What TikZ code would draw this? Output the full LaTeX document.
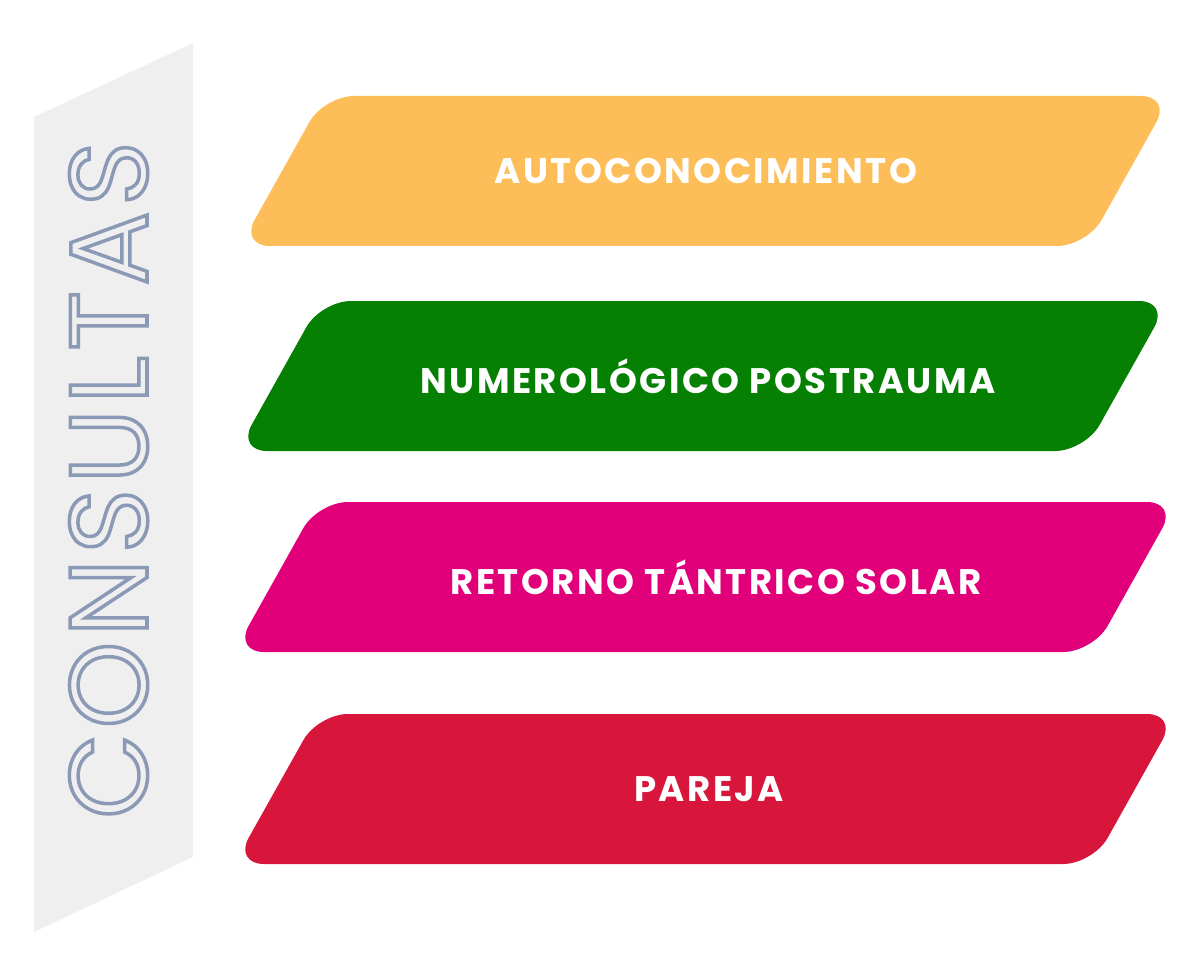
\documentclass[tikz,border=0pt]{standalone}
\usepackage{fontspec}
\setmainfont{Poppins}
\newfontfamily\labelfont{Poppins}[LetterSpace=7]
\newfontfamily\titlefont{Poppins}[LetterSpace=5]
\usepackage{xcolor}
\usepackage{tikz}

\definecolor{amber}{HTML}{FDBE5A}
\definecolor{leaf}{HTML}{058002}
\definecolor{fuchsia}{HTML}{E2007A}
\definecolor{crimson}{HTML}{D8153B}
\definecolor{panel}{HTML}{EFEFEF}
\definecolor{slate}{HTML}{8A9AB5}

% hollow letters: stroke only
\newcommand{\hollow}[1]{\special{pdf:literal direct 1 Tr 3.5 w 0.54 0.60 0.71 RG}#1\special{pdf:literal direct 0 Tr 1 w}}

\tikzset{
	bar/.style={fill=#1, rounded corners=30pt},
	barlabel/.style={text=white, font=\labelfont\fontsize{35.5}{35.5}\selectfont\bfseries, inner sep=0pt}
}

\begin{document}
\begin{tikzpicture}[x=1pt, y=-1pt]
		\useasboundingbox (0,0) rectangle (1200,960);

		\fill[panel] (34,117) -- (193,43) -- (193,857) -- (34,932) -- cycle;
		\node[rotate=90, anchor=base, inner sep=0pt, font=\titlefont\fontsize{110}{110}\selectfont] (title) at (147,480) {\hollow{CONSULTAS}};

		% left x, width, top y, colour, label x, text
		\foreach \l/\w/\t/\c/\x/\name/\txt in {
				240/847/96/amber/706/auto/AUTOCONOCIMIENTO,
				237/848/301/leaf/708/nume/NUMEROLÓGICO POSTRAUMA,
				234/859/502/fuchsia/716/reto/RETORNO TÁNTRICO SOLAR,
				234/859/714/crimson/709/pare/PAREJA}{
			\fill[bar=\c] (\l,\t+150) -- (\l+84,\t) -- (\l+84+\w,\t) -- (\l+\w,\t+150) -- cycle;
			\node[barlabel] (\name) at (\x,\t+75) {\txt};
		}
	\end{tikzpicture}
\end{document}
